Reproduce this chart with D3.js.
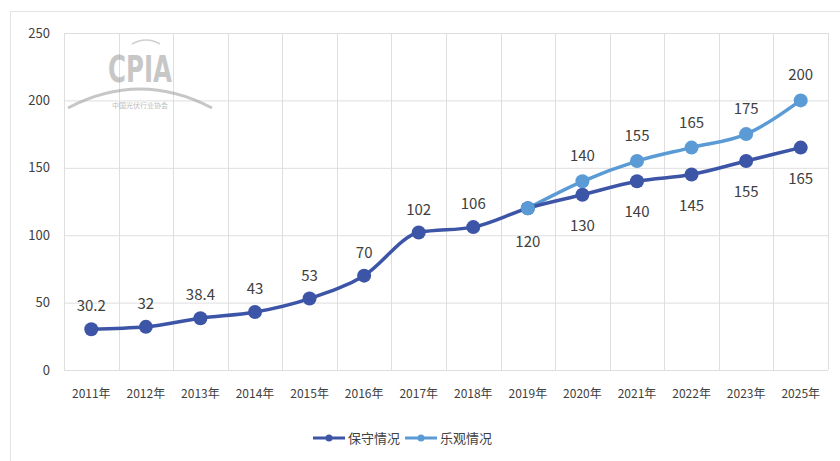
<!DOCTYPE html>
<html>
<head>
<meta charset="utf-8">
<script src="https://cdn.jsdelivr.net/npm/d3@7"></script>
<style>
  body { margin: 0; background: #fff; }
  text { font-family: "Noto Sans CJK SC", "Noto Sans", sans-serif; fill: #404040; }
</style>
</head>
<body>
<div id="chart"></div>
<script>
var years = ["2011年", "2012年", "2013年", "2014年", "2015年", "2016年", "2017年",
             "2018年", "2019年", "2020年", "2021年", "2022年", "2023年", "2025年"];
var conservative = [30.2, 32, 38.4, 43, 53, 70, 102, 106, 120, 130, 140, 145, 155, 165];
var optimisticYears = ["2019年", "2020年", "2021年", "2022年", "2023年", "2025年"];
var optimistic = [120, 140, 155, 165, 175, 200];
var yTicks = [0, 50, 100, 150, 200, 250];
var seriesNames = ["保守情况", "乐观情况"];

var svgWidth = 840, svgHeight = 461;
var margin = { top: 33, right: 12, bottom: 91, left: 64 };
var width = svgWidth - margin.left - margin.right;
var height = svgHeight - margin.top - margin.bottom;

var darkBlue = "#3d55a7";
var lightBlue = "#5b9bd5";

var svg = d3.select("#chart").append("svg")
  .attr("width", svgWidth)
  .attr("height", svgHeight);

// outer frame
svg.append("rect")
  .attr("x", 10.5).attr("y", 11.5)
  .attr("width", 840).attr("height", 470)
  .attr("fill", "none").attr("stroke", "#e3e3e3");

var chartGroup = svg.append("g")
  .attr("transform", `translate(${margin.left}, ${margin.top})`);

var x = d3.scaleBand().domain(years).range([0, width]);
var y = d3.scaleLinear().domain([0, 250]).range([height, 0]);

// horizontal grid
chartGroup.append("g")
  .selectAll("line").data(yTicks).enter().append("line")
  .attr("x1", 0).attr("x2", width)
  .attr("y1", d => y(d) + 0.5).attr("y2", d => y(d) + 0.5)
  .attr("stroke", "#dedede");

// vertical grid at category edges
var edges = years.map(d => x(d)).concat([width]);
chartGroup.append("g")
  .selectAll("line").data(edges).enter().append("line")
  .attr("x1", d => Math.round(d) + 0.5).attr("x2", d => Math.round(d) + 0.5)
  .attr("y1", 0).attr("y2", height)
  .attr("stroke", "#dedede");

// watermark
var wm = svg.append("g").attr("opacity", 0.55);
wm.append("text").attr("x", 140).attr("y", 82)
  .attr("text-anchor", "middle")
  .attr("transform", "translate(140,82) scale(0.85,1.15) translate(-140,-82)")
  .style("font-family", "DejaVu Sans Condensed, sans-serif")
  .style("font-weight", "bold").style("font-size", "32px")
  .style("fill", "#9a9a9a").text("CPIA");
wm.append("path")
  .attr("d", "M68,108 Q140,70 212,108")
  .attr("fill", "none").attr("stroke", "#9a9a9a").attr("stroke-width", 3);
wm.append("path")
  .attr("d", "M132,44 Q146,36 160,44")
  .attr("fill", "none").attr("stroke", "#aaa").attr("stroke-width", 1.5);
wm.append("text").attr("x", 140).attr("y", 108)
  .attr("text-anchor", "middle").style("font-size", "7px")
  .style("fill", "#888").text("中国光伏行业协会");

// y axis labels
var yAxis = d3.axisLeft(y).tickValues(yTicks).tickSize(0).tickPadding(14);
chartGroup.append("g").call(yAxis)
  .call(g => g.select(".domain").remove())
  .selectAll("text").style("font-size", "13px").attr("fill", "#404040");

// x axis labels
var xAxis = d3.axisBottom(x).tickSize(0).tickPadding(19);
chartGroup.append("g").attr("transform", `translate(0, ${height})`).call(xAxis)
  .call(g => g.select(".domain").remove())
  .selectAll("text").style("font-size", "12px").attr("fill", "#404040");

var cx = d => x(d) + x.bandwidth() / 2;
var line = d3.line().curve(d3.curveMonotoneX)
  .x(d => cx(d[0])).y(d => y(d[1]));

var consData = years.map((d, i) => [d, conservative[i]]);
var optData = optimisticYears.map((d, i) => [d, optimistic[i]]);

chartGroup.append("path").datum(optData)
  .attr("d", line).attr("fill", "none")
  .attr("stroke", lightBlue).attr("stroke-width", 3.5);
chartGroup.append("path").datum(consData)
  .attr("d", line).attr("fill", "none")
  .attr("stroke", darkBlue).attr("stroke-width", 3.5);

chartGroup.append("g").selectAll("circle").data(consData).enter().append("circle")
  .attr("cx", d => cx(d[0])).attr("cy", d => y(d[1])).attr("r", 7)
  .attr("fill", darkBlue);
chartGroup.append("g").selectAll("circle").data(optData).enter().append("circle")
  .attr("cx", d => cx(d[0])).attr("cy", d => y(d[1])).attr("r", 7)
  .attr("fill", lightBlue);

// data labels
chartGroup.append("g").selectAll("text").data(consData).enter().append("text")
  .attr("x", d => cx(d[0]))
  .attr("y", (d, i) => i < 8 ? y(d[1]) - 18 : y(d[1]) + (i === 8 ? 39 : 36))
  .attr("text-anchor", "middle").style("font-size", "15px")
  .text(d => d[1]);
chartGroup.append("g").selectAll("text").data(optData.slice(1)).enter().append("text")
  .attr("x", d => cx(d[0]))
  .attr("y", d => y(d[1]) - 20)
  .attr("text-anchor", "middle").style("font-size", "15px")
  .text(d => d[1]);

// legend
var legend = svg.append("g").attr("transform", "translate(313, 438)");
[darkBlue, lightBlue].forEach(function(c, i) {
  var g = legend.append("g").attr("transform", `translate(${i * 92}, 0)`);
  g.append("line").attr("x1", 0).attr("x2", 32).attr("y1", 0).attr("y2", 0)
    .attr("stroke", c).attr("stroke-width", 3);
  g.append("circle").attr("cx", 16).attr("cy", 0).attr("r", 3.5).attr("fill", c);
  g.append("text").attr("x", 35).attr("y", 5).style("font-size", "13px")
    .text(seriesNames[i]);
});
</script>
</body>
</html>
